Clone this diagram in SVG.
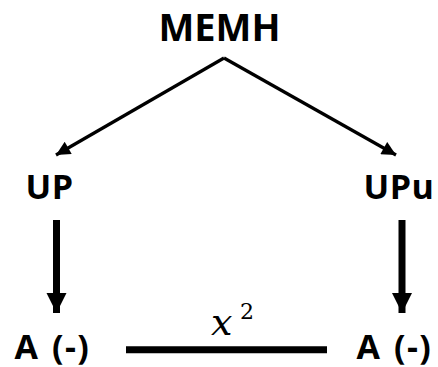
<svg xmlns="http://www.w3.org/2000/svg" width="438" height="367" viewBox="0 0 438 367">
<style>
.lbl{font-family:"Open Sans","Liberation Sans",Arial,sans-serif;font-weight:bold;fill:#000}
.thin{stroke:#000;stroke-width:3.2;fill:none}
.thick{stroke:#000;stroke-width:7;fill:none}
</style>
<defs>
<marker id="ah" viewBox="0 0 10 10" refX="10" refY="5" markerWidth="5" markerHeight="4.4" markerUnits="strokeWidth" orient="auto">
<path d="M0,0 L10,5 L0,10 Z" fill="#000"/>
</marker>
<marker id="ahb" viewBox="0 0 10 10" refX="10" refY="5" markerWidth="2.9" markerHeight="3" markerUnits="strokeWidth" orient="auto">
<path d="M0,0 L10,5 L0,10 Z" fill="#000"/>
</marker>
</defs>
<rect width="438" height="367" fill="#fff"/>
<g id="connectors">
<line class="thin" x1="224" y1="58" x2="56" y2="155" marker-end="url(#ah)"/>
<line class="thin" x1="224" y1="58" x2="396" y2="155" marker-end="url(#ah)"/>
<line class="thick" x1="56.5" y1="220" x2="56.5" y2="313" marker-end="url(#ahb)"/>
<line class="thick" x1="402" y1="220" x2="402" y2="313" marker-end="url(#ahb)"/>
<line x1="126" y1="349.7" x2="327" y2="349.7" stroke="#000" stroke-width="7"/>
<text x="211" y="335" font-family="DejaVu Serif,serif" font-style="italic" font-size="38">x</text>
<text x="240" y="319" font-family="DejaVu Serif,serif" font-size="22">2</text>
</g>
<g id="memh"><text class="lbl" x="219.5" y="40.5" font-size="38" text-anchor="middle">MEMH</text></g>
<g id="up"><text class="lbl" x="49.5" y="198.5" font-size="34" letter-spacing="0.5" text-anchor="middle">UP</text></g>
<g id="upu"><text class="lbl" x="399" y="198.5" font-size="34" letter-spacing="0.5" text-anchor="middle">UPu</text></g>
<g id="a1"><text class="lbl" x="52.5" y="358.5" font-size="34" letter-spacing="1.5" word-spacing="2" text-anchor="middle">A (-)</text></g>
<g id="a2"><text class="lbl" x="394.5" y="358.5" font-size="34" letter-spacing="1.5" word-spacing="2" text-anchor="middle">A (-)</text></g>
</svg>
